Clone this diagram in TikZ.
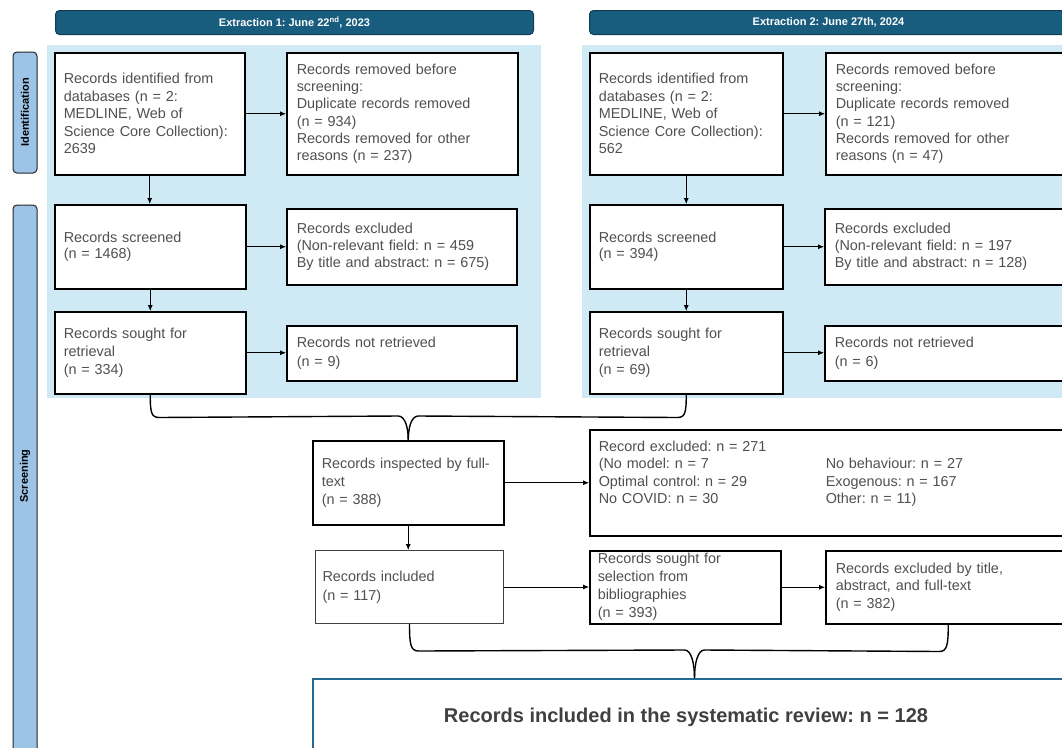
\documentclass[tikz,border=0pt]{standalone}
\usepackage{fontspec}
\setmainfont{Liberation Sans}
\usetikzlibrary{arrows.meta,calc}
\definecolor{txt}{RGB}{80,80,80}
\definecolor{hdrfill}{RGB}{24,92,126}
\definecolor{hdredge}{RGB}{16,60,84}
\definecolor{bgfill}{RGB}{208,234,245}
\definecolor{sidefill}{RGB}{157,195,230}
\definecolor{finaledge}{RGB}{38,104,145}
\definecolor{finaltxt}{RGB}{64,64,64}
\begin{document}
\frenchspacing
\begin{tikzpicture}[x=1pt,y=-1pt,
  box/.style={draw=black, line width=1.5pt, fill=white, anchor=north west, inner xsep=9pt, inner ysep=1pt, align=left, text=txt, font=\fontsize{14.4}{17.5}\selectfont},
  arr/.style={-{Latex[length=6pt,width=5pt]}, line width=0.8pt},
  brace/.style={line width=1.4pt, draw=black},
  hdr/.style={draw=hdredge, fill=hdrfill, rounded corners=4pt, line width=1pt, text=white, font=\bfseries\fontsize{11}{13}\selectfont, anchor=north west, inner sep=0pt},
  side/.style={draw=black!85, fill=sidefill, rounded corners=4pt, line width=1pt, font=\bfseries\fontsize{11}{13}\selectfont, inner sep=0pt}
]
\useasboundingbox (0,0) rectangle (1062,747);
\fill[white] (0,0) rectangle (1062,747);

% headers
\node[hdr, minimum width=478pt, minimum height=24pt] (h1) at (55,10) {Extraction 1: June 22\textsuperscript{nd}, 2023};
\node[hdr, minimum width=478pt, minimum height=24pt] (h2) at (589,10) {Extraction 2: June 27th, 2024};

% backgrounds
\fill[bgfill] (47,45) rectangle (541,398);
\fill[bgfill] (582,45) rectangle (1075,398);

% side labels
\node[side, rotate=90, minimum width=121pt, minimum height=24pt] (sid) at (25,112.5) {Identification};
\node[side, rotate=90, minimum width=560pt, minimum height=24pt] (ssc) at (25,485) {\hspace{18pt}Screening};

% extraction 1
\node[box, minimum width=190pt, minimum height=122pt, text width=172pt] (id1) at (54,52)
  {Records identified from\\databases (n = 2:\\MEDLINE, Web of\\Science Core Collection):\\2639};
\node[box, inner xsep=10pt, minimum width=231pt, minimum height=122pt, text width=211pt, font=\fontsize{14.4}{17.3}\selectfont] (rm1) at (286,52)
  {Records removed before\\screening:\\Duplicate records removed\\(n = 934)\\Records removed for other\\reasons (n = 237)};
\node[box, minimum width=191pt, minimum height=84pt, text width=173pt, font=\fontsize{14.4}{15.5}\selectfont] (sc1) at (54,204)
  {Records screened\\(n = 1468)};
\node[box, inner xsep=10pt, minimum width=230pt, minimum height=76pt, text width=210pt, font=\fontsize{14.4}{17}\selectfont] (ex1) at (286,208)
  {Records excluded\\(Non-relevant field: n = 459\\By title and abstract: n = 675)};
\node[box, minimum width=191pt, minimum height=82pt, text width=173pt, font=\fontsize{14.4}{17.7}\selectfont] (so1) at (54,311)
  {Records sought for\\retrieval\\(n = 334)};
\node[box, inner xsep=10pt, minimum width=230pt, minimum height=55pt, text width=210pt, font=\fontsize{14.4}{19}\selectfont] (nr1) at (286,325)
  {Records not retrieved\\(n = 9)};

% extraction 2
\node[box, minimum width=193pt, minimum height=122pt, text width=175pt] (id2) at (589,52)
  {Records identified from\\databases (n = 2:\\MEDLINE, Web of\\Science Core Collection):\\562};
\node[box, inner xsep=10pt, minimum width=245pt, minimum height=122pt, text width=225pt, font=\fontsize{14.4}{17.3}\selectfont] (rm2) at (825,52)
  {Records removed before\\screening:\\Duplicate records removed\\(n = 121)\\Records removed for other\\reasons (n = 47)};
\node[box, minimum width=193pt, minimum height=84pt, text width=175pt, font=\fontsize{14.4}{15.5}\selectfont] (sc2) at (589,204)
  {Records screened\\(n = 394)};
\node[box, inner xsep=10pt, minimum width=246pt, minimum height=76pt, text width=226pt, font=\fontsize{14.4}{17}\selectfont] (ex2) at (824,208)
  {Records excluded\\(Non-relevant field: n = 197\\By title and abstract: n = 128)};
\node[box, minimum width=193pt, minimum height=82pt, text width=175pt, font=\fontsize{14.4}{17.7}\selectfont] (so2) at (589,311)
  {Records sought for\\retrieval\\(n = 69)};
\node[box, inner xsep=10pt, minimum width=246pt, minimum height=55pt, text width=226pt, font=\fontsize{14.4}{19}\selectfont] (nr2) at (824,325)
  {Records not retrieved\\(n = 6)};

% lower part
\node[box, inner xsep=9pt, minimum width=191pt, minimum height=84pt, text width=173pt, font=\fontsize{14.4}{18}\selectfont] (insp) at (312,440)
  {Records inspected by full-\\text\\(n = 388)};
\node[box, minimum width=481pt, minimum height=106pt, text width=463pt, font=\fontsize{14.4}{17.4}\selectfont] (rexc) at (589,429)
  {\begin{tabular}{@{}p{227pt}@{}l@{}}
   Record excluded: n = 271 & \\
   (No model: n = 7 & No behaviour: n = 27\\
   Optimal control: n = 29 & Exogenous: n = 167\\
   No COVID: n = 30 & Other: n = 11)\\
   & \\
   \end{tabular}};
\node[box, draw=black!75, line width=1pt, inner xsep=7pt, minimum width=188pt, minimum height=73pt, text width=174pt, font=\fontsize{14.4}{19}\selectfont] (incl) at (315,550)
  {Records included\\(n = 117)};
\node[box, inner xsep=8pt, inner ysep=0pt, minimum width=191pt, minimum height=73pt, text width=175pt, font=\fontsize{14.4}{18}\selectfont] (sel) at (589,550)
  {Records sought for\\selection from\\bibliographies\\(n = 393)};
\node[box, inner xsep=10pt, minimum width=245pt, minimum height=73pt, text width=225pt, font=\fontsize{14.4}{17.5}\selectfont] (ext) at (825,550)
  {Records excluded by title,\\abstract, and full-text\\(n = 382)};
\node[box, draw=finaledge, line width=2pt, inner sep=0pt, minimum width=763pt, minimum height=76pt, text=finaltxt, font=\bfseries\fontsize{20}{23}\selectfont] (final) at (312,678)
  {\makebox[746pt][c]{Records included in the systematic review: n = 128}\hspace{17pt}};

% arrows extraction 1
\draw[arr] (id1.east) -- (id1.east -| rm1.west);
\draw[arr] (id1.south) -- (id1.south |- sc1.north);
\draw[arr] (sc1.east) -- (sc1.east -| ex1.west);
\draw[arr] (sc1.south) -- (sc1.south |- so1.north);
\draw[arr] (so1.east) -- (so1.east -| nr1.west);
% arrows extraction 2
\draw[arr] (id2.east) -- (id2.east -| rm2.west);
\draw[arr] (id2.south) -- (id2.south |- sc2.north);
\draw[arr] (sc2.east) -- (sc2.east -| ex2.west);
\draw[arr] (sc2.south) -- (sc2.south |- so2.north);
\draw[arr] (so2.east) -- (so2.east -| nr2.west);
% lower arrows
\draw[arr] (insp.east) -- (insp.east -| rexc.west);
\draw[arr] (insp.south) -- (insp.south |- incl.north);
\draw[arr] (incl.east) -- (incl.east -| sel.west);
\draw[arr] (sel.east) -- (sel.east -| ext.west);

% brace 1
\coordinate (b1) at ($(insp.north)+(0,-24)$);
\draw[brace] (so1.south) .. controls +(0,18) and +(-8,0) .. ($(so1.south)+(9,23)$)
  -- ($(b1)+(-10,0)$) .. controls +(7,0) and +(0,-12) .. (insp.north);
\draw[brace] (so2.south) .. controls +(0,18) and +(8,0) .. ($(so2.south)+(-9,23)$)
  -- ($(b1)+(10,0)$) .. controls +(-7,0) and +(0,-12) .. (insp.north);
% brace 2
\coordinate (b2) at ($(final.north)+(0,-28)$);
\draw[brace] (incl.south) .. controls +(0,20) and +(-8,0) .. ($(incl.south)+(9,27)$)
  -- ($(b2)+(-10,0)$) .. controls +(7,0) and +(0,-14) .. (final.north);
\draw[brace] (ext.south) .. controls +(0,20) and +(8,0) .. ($(ext.south)+(-9,27)$)
  -- ($(b2)+(10,0)$) .. controls +(-7,0) and +(0,-14) .. (final.north);
\end{tikzpicture}
\end{document}
